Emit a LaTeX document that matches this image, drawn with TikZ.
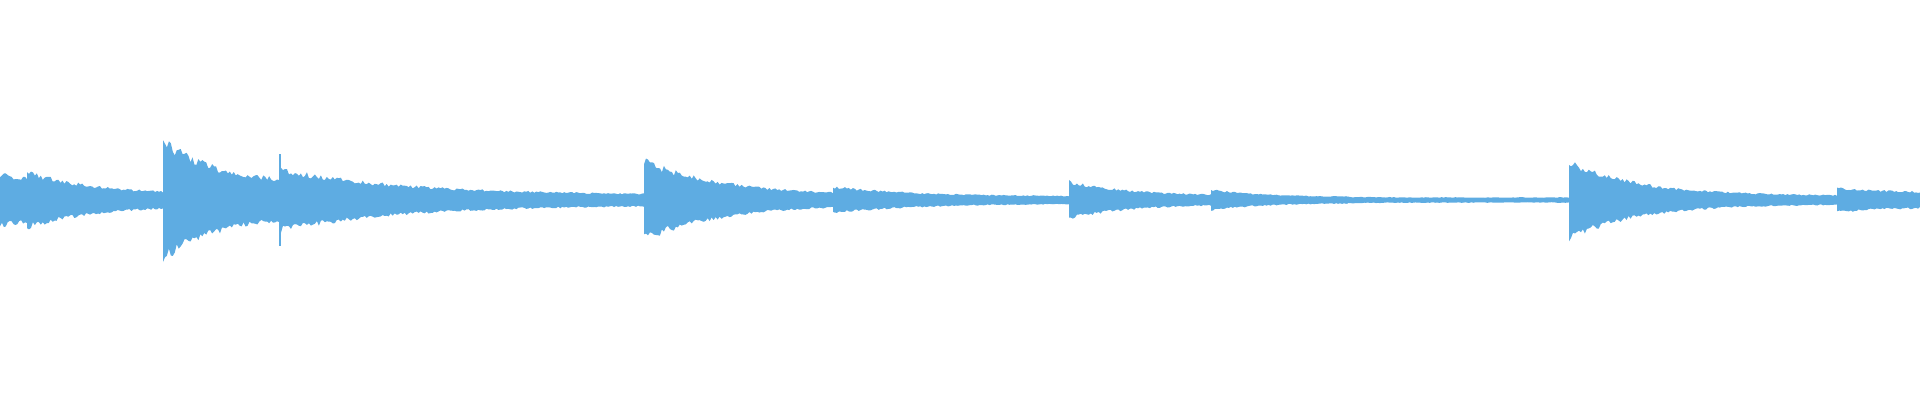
\documentclass[tikz,border=0pt]{standalone}
\definecolor{wave}{RGB}{94,172,226}
\begin{document}
\begin{tikzpicture}[x=0.05cm,y=-0.05cm]
\pgfmathsetseed{7}
\useasboundingbox (0,0) rectangle (1920,400);
\foreach \xa/\xb/\a/\e/\t in {0/27/25/19/30, 27/163/27/5/70, 163/279/57/14/60, 279/644/30/5/120, 644/833/38/4/80, 833/1069/13/3.5/80, 1069/1211/18/4/60, 1211/1348/10/3/50, 1348/1569/3/2.5/50, 1569/1837/37/4/70, 1837/1920/12/7/50}{
  \fill[wave] plot[domain=\xa:\xb,samples={int((\xb-\xa)/2)+2}] (\x,{200-(\e+(\a-\e)*exp(-(\x-\xa)/\t))*(0.88+0.24*rnd)})
   -- plot[domain=\xb:\xa,samples={int((\xb-\xa)/2)+2}] (\x,{200+(\e+(\a-\e)*exp(-(\x-\xa)/\t))*(0.88+0.24*rnd)}) -- cycle;
}
\fill[wave] (279,154) rectangle (281,246);
\end{tikzpicture}
\end{document}
